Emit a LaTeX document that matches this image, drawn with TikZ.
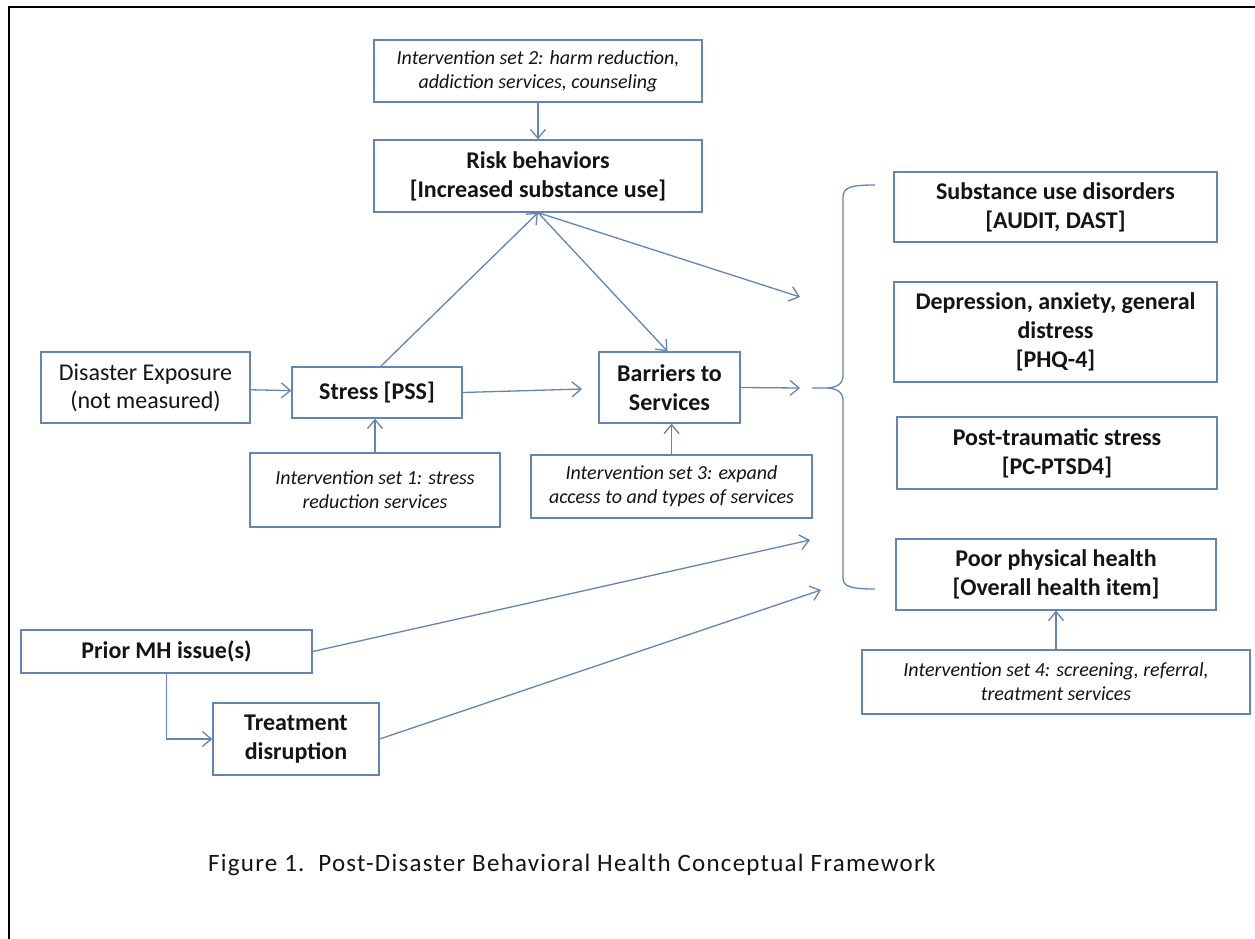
\documentclass[tikz,border=0pt]{standalone}
\usepackage{fontspec}
\setmainfont{Carlito}
\usetikzlibrary{arrows.meta}
\definecolor{boxc}{RGB}{100,132,180}
\definecolor{txt}{RGB}{20,20,20}
\tikzset{
  bx/.style={draw=boxc, line width=1.3pt, fill=white, align=center, inner sep=0pt, text=txt},
  boldtxt/.style={bx, font=\fontsize{24}{29}\selectfont\bfseries},
  regtxt/.style={bx, font=\fontsize{24}{28}\selectfont},
  ittxt/.style={bx, font=\fontsize{20}{24}\selectfont\itshape},
  arr/.style={draw=boxc, line width=1.3pt, -{Straight Barb[length=9pt,width=15pt,line width=1.3pt]}},
  ln/.style={draw=boxc, line width=1.3pt}
}
\begin{document}
\begin{tikzpicture}[x=1pt,y=-1pt]
\useasboundingbox (0,0) rectangle (1255,939);
\fill[white] (0,0) rectangle (1255,939);
\draw[black, line width=2.5pt] (9,939) -- (9,7) -- (1255,7);

\node[ittxt, minimum width=328pt, minimum height=62pt] (int2) at (538,71) {Intervention set 2: harm reduction,\\addiction services, counseling};
\node[boldtxt, minimum width=328pt, minimum height=72pt] (risk) at (538,176) {Risk behaviors\\{}[Increased substance use]};
\node[regtxt, minimum width=209pt, minimum height=71pt] (dis) at (145.5,387.5) {Disaster Exposure\\(not measured)};
\node[boldtxt, minimum width=170pt, minimum height=51pt] (stress) at (377,392.5) {Stress [PSS]};
\node[ittxt, minimum width=250pt, minimum height=74pt] (int1) at (375,490) {Intervention set 1: stress\\reduction services};
\node[boldtxt, minimum width=141pt, minimum height=71pt] (barr) at (669.5,387.5) {Barriers to\\Services};
\node[ittxt, minimum width=281pt, minimum height=63pt] (int3) at (671.5,486.5) {Intervention set 3: expand\\access to and types of services};
\node[boldtxt, minimum width=323pt, minimum height=70pt] (sud) at (1055.5,207) {Substance use disorders\\{}[AUDIT, DAST]};
\node[boldtxt, minimum width=323pt, minimum height=100pt] (dep) at (1055.5,332) {Depression, anxiety, general\\distress\\{}[PHQ-4]};
\node[boldtxt, minimum width=320pt, minimum height=72pt] (ptsd) at (1057,453) {Post-traumatic stress\\{}[PC-PTSD4]};
\node[boldtxt, minimum width=320pt, minimum height=71pt] (poor) at (1056,574.5) {Poor physical health\\{}[Overall health item]};
\node[ittxt, minimum width=388pt, minimum height=64pt] (int4) at (1056,682) {Intervention set 4: screening, referral,\\treatment services};
\node[boldtxt, minimum width=291pt, minimum height=43pt] (prior) at (166.5,651.5) {Prior MH issue(s)};
\node[boldtxt, minimum width=166pt, minimum height=72pt] (treat) at (296,739) {Treatment\\disruption};

\node[anchor=base west, inner sep=0pt, text=txt, font=\fontsize{25}{28}\selectfont\addfontfeature{LetterSpace=5}] (cap) at (208,871) {Figure 1.\ \ Post-Disaster Behavioral Health Conceptual Framework};

\coordinate (c0) at (582,389);
\coordinate (c1) at (800,297);
\coordinate (c2) at (800,388);
\coordinate (c3) at (810,540);
\coordinate (c4) at (821,590);
\coordinate (stop) at (380,367);

% brace
\draw[ln] (875,185) .. controls (852,185) and (843,187) .. (843,197)
  -- (843,376) .. controls (843,384) and (836,388) .. (826,388) -- (812,388)
  (826,388) .. controls (836,388) and (843,392) .. (843,400)
  -- (843,578) .. controls (843,587) and (852,589) .. (875,589);

\draw[arr] (int2) -- (risk);
\draw[arr] (dis) -- (stress);
\draw[arr] (int1) -- (int1 |- stress.south);
\draw[arr] (stop) -- (risk.south);
\draw[arr] (risk.south) -- ([xshift=-2pt]barr.north);
\draw[arr] (risk.south) -- (c1);
\draw[arr] (stress.east) -- (c0);
\draw[arr] (barr.east) -- (c2);
\draw[arr] ([xshift=2pt]int3.north -| barr.south) -- ([xshift=2pt]barr.south);
\draw[arr] (int4) -- (poor);
\draw[arr] (prior.south) |- (treat.west);
\draw[arr] (prior.east) -- (c3);
\draw[arr] (treat.east) -- (c4);
\end{tikzpicture}
\end{document}
